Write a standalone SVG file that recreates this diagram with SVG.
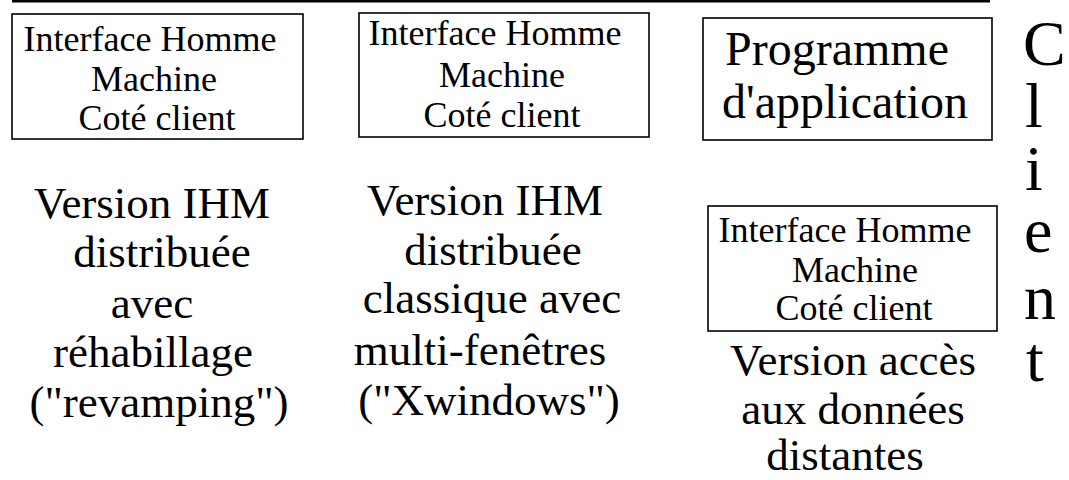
<svg xmlns="http://www.w3.org/2000/svg" width="1069" height="480" viewBox="0 0 1069 480">
  <style>
    text { font-family: "Liberation Serif", "Times New Roman", serif; fill: #000; }
    .box { fill: #fff; stroke: #000; stroke-width: 1.6; }
    .ihm { font-size: 36px; text-anchor: middle; }
    .prog { font-size: 48px; text-anchor: middle; }
    .ver { font-size: 45px; text-anchor: middle; }
    .side { font-size: 64px; }
  </style>
  <rect width="1069" height="480" fill="#fff"/>

  <!-- rule across the top -->
  <line x1="12" y1="1.3" x2="990" y2="1.3" stroke="#000" stroke-width="2.6"/>

  <!-- first column: revamping -->
  <g id="ihm-revamping">
    <rect class="box" x="12" y="14" width="291" height="125"/>
    <text class="ihm"><tspan x="150" y="51">Interface Homme</tspan><tspan x="154" y="91">Machine</tspan><tspan x="157" y="130">Coté client</tspan></text>
  </g>
  <g id="label-revamping">
    <text class="ver"><tspan x="152" y="218">Version IHM</tspan><tspan x="162" y="267">distribuée</tspan><tspan x="152" y="318">avec</tspan><tspan x="153" y="367">réhabillage</tspan><tspan x="159" y="417">("revamping")</tspan></text>
  </g>

  <!-- second column: X windows -->
  <g id="ihm-xwindows">
    <rect class="box" x="359" y="13" width="290" height="124"/>
    <text class="ihm"><tspan x="495" y="45">Interface Homme</tspan><tspan x="502" y="87">Machine</tspan><tspan x="502" y="127">Coté client</tspan></text>
  </g>
  <g id="label-xwindows">
    <text class="ver"><tspan x="485" y="215">Version IHM</tspan><tspan x="493" y="265">distribuée</tspan><tspan x="492" y="313">classique avec</tspan><tspan x="480" y="365">multi-fenêtres</tspan><tspan x="489" y="415">("Xwindows")</tspan></text>
  </g>

  <!-- third column: remote data access -->
  <g id="programme">
    <rect class="box" x="703" y="18" width="289" height="122"/>
    <text class="prog"><tspan x="837" y="65">Programme</tspan><tspan x="845" y="118">d'application</tspan></text>
  </g>
  <g id="ihm-donnees">
    <rect class="box" x="708" y="206" width="289" height="125"/>
    <text class="ihm"><tspan x="845" y="242">Interface Homme</tspan><tspan x="855" y="282">Machine</tspan><tspan x="854" y="320">Coté client</tspan></text>
  </g>
  <g id="label-donnees">
    <text class="ver"><tspan x="853" y="375">Version accès</tspan><tspan x="853" y="424">aux données</tspan><tspan x="845" y="470">distantes</tspan></text>
  </g>

  <!-- vertical side title -->
  <g id="client">
    <text class="side"><tspan x="1023" y="65">C</tspan><tspan x="1025" y="127">l</tspan><tspan x="1025" y="190">i</tspan><tspan x="1024" y="252">e</tspan><tspan x="1024" y="319">n</tspan><tspan x="1026" y="381">t</tspan></text>
  </g>

  <g id="connectors"/>
</svg>
